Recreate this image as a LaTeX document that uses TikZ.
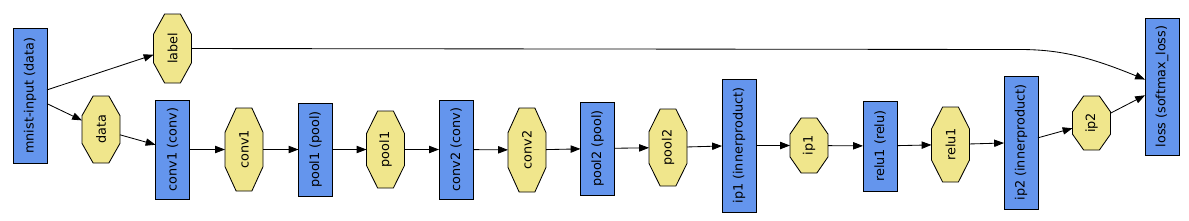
\documentclass[tikz,border=0pt]{standalone}
\usepackage{fontspec}
\setmainfont{DejaVu Sans}
\usetikzlibrary{arrows.meta, backgrounds, calc}

\definecolor{layerblue}{HTML}{6495ED}
\definecolor{blobkhaki}{HTML}{F0E68C}

\newdimen\px
\px=0.025cm

\begin{document}
\begin{tikzpicture}[
        x=0.025cm,
        y=-0.025cm,
        line width=0.6pt,
        layer/.style={
            draw,
            fill=layerblue,
            rotate=90,
            inner sep=0pt,
            outer sep=0pt,
            minimum height=34\px,
            minimum width=#1\px,
            font=\fontsize{9.1}{11}\selectfont
        },
        blob/.style={
            rotate=90,
            inner sep=0pt,
            outer sep=0pt,
            minimum height=38\px,
            minimum width=#1\px,
            font=\fontsize{9.1}{11}\selectfont
        },
        blobshape/.style={
            draw,
            fill=blobkhaki,
            line width=0.6pt
        },
        flow/.style={
            -{Triangle[length=7pt, width=5.2pt]},
            line width=0.6pt
        }
    ]

        \useasboundingbox (0,0) rectangle (1189,220);

        % ---------------------------------------------------------------------
        % Layers
        % ---------------------------------------------------------------------

        \node[layer=135] (mnist) at (30,95.5)   {mnist-input (data)};
        \node[layer=99]  (conv1) at (172.5,149.5) {conv1 (conv)};
        \node[layer=93]  (pool1) at (315.5,149.5) {pool1 (pool)};
        \node[layer=99]  (conv2) at (456,149.5)   {conv2 (conv)};
        \node[layer=93]  (pool2) at (597.5,148.5) {pool2 (pool)};
        \node[layer=133] (ip1)   at (739,145.5)   {ip1 (innerproduct)};
        \node[layer=90]  (relu1) at (880,146)     {relu1 (relu)};
        \node[layer=133] (ip2)   at (1021,142.5)  {ip2 (innerproduct)};
        \node[layer=137] (loss)  at (1162,86.5)   {loss (softmax\_loss)};

        % ---------------------------------------------------------------------
        % Blobs
        % ---------------------------------------------------------------------

        \node[blob=69] (blob-label) at (172.5,48.5) {label};
        \node[blob=67] (blob-data)  at (101,129.5)  {data};
        \node[blob=83] (blob-conv1) at (244,149.5)  {conv1};
        \node[blob=77] (blob-pool1) at (385.5,149.5) {pool1};
        \node[blob=84] (blob-conv2) at (527,150)    {conv2};
        \node[blob=77] (blob-pool2) at (668,147.5)  {pool2};
        \node[blob=55] (blob-ip1)   at (809,145.5)  {ip1};
        \node[blob=75] (blob-relu1) at (950.5,144.5) {relu1};
        \node[blob=54] (blob-ip2)   at (1091.5,123) {ip2};

        \begin{scope}[on background layer]
            \foreach \b in {blob-label, blob-data, blob-conv1, blob-pool1,
                blob-conv2, blob-pool2, blob-ip1, blob-relu1, blob-ip2} {
                \filldraw[blobshape]
                    ($(\b.north west)!0.293!(\b.north east)$) --
                    ($(\b.north west)!0.707!(\b.north east)$) --
                    ($(\b.north east)!0.293!(\b.south east)$) --
                    ($(\b.north east)!0.707!(\b.south east)$) --
                    ($(\b.south east)!0.293!(\b.south west)$) --
                    ($(\b.south east)!0.707!(\b.south west)$) --
                    ($(\b.south west)!0.293!(\b.north west)$) --
                    ($(\b.south west)!0.707!(\b.north west)$) -- cycle;
            }
        \end{scope}

        % ---------------------------------------------------------------------
        % Forward connections
        % ---------------------------------------------------------------------

        \foreach \a/\b in {mnist/blob-label, mnist/blob-data,
            blob-data/conv1, conv1/blob-conv1, blob-conv1/pool1,
            pool1/blob-pool1, blob-pool1/conv2, conv2/blob-conv2,
            blob-conv2/pool2, pool2/blob-pool2, blob-pool2/ip1,
            ip1/blob-ip1, blob-ip1/relu1, relu1/blob-relu1,
            blob-relu1/ip2, ip2/blob-ip2, blob-ip2/loss}
            \draw[flow] (\a) -- (\b);

        % label goes straight over to the loss
        \coordinate (labelbend) at (1020,49.5);
        \draw[flow]
            (blob-label) -- (labelbend)
            .. controls (1060,49.5) and (1090,57) .. (loss);

    \end{tikzpicture}
\end{document}
